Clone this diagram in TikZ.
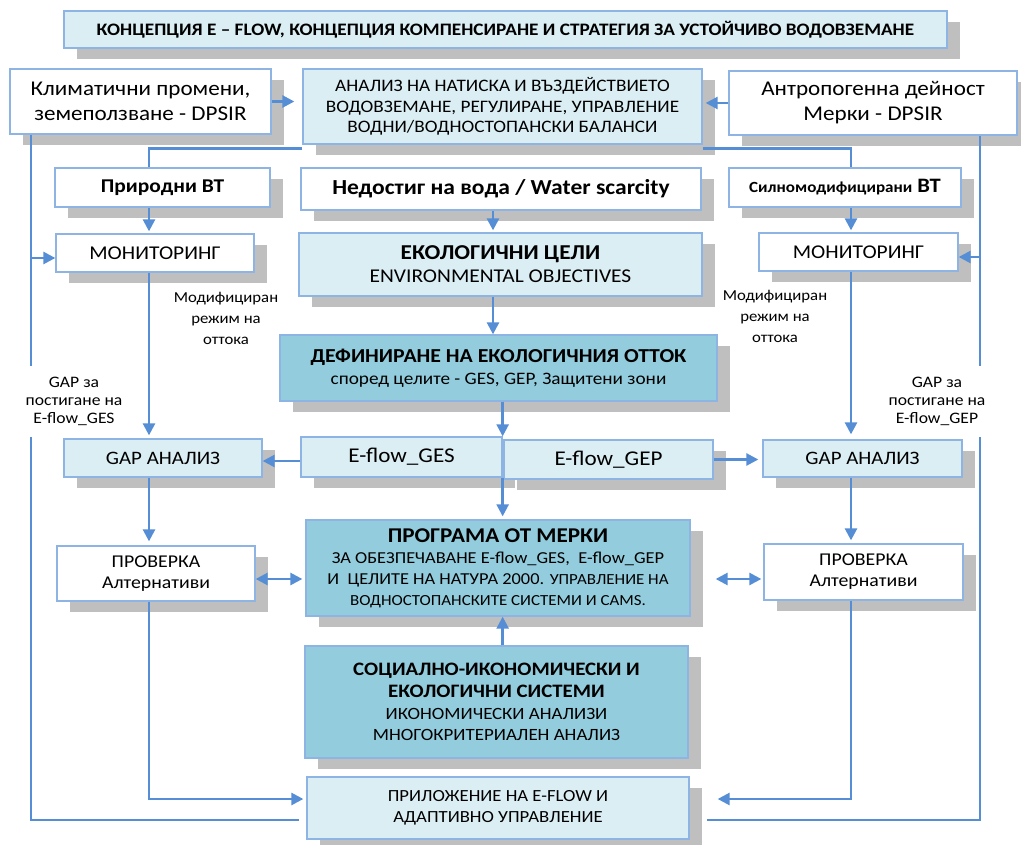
\documentclass[tikz,border=0pt]{standalone}
\usepackage{fontspec}
\setmainfont{Carlito}[FakeStretch=1.1]
\usepackage{tikz}
\usetikzlibrary{calc,positioning,arrows.meta,shadows}

\definecolor{boxline}{HTML}{8DB4E2}
\definecolor{flowline}{HTML}{558ED5}
\definecolor{paleblue}{HTML}{DBEEF4}
\definecolor{tealblue}{HTML}{93CDDD}
\definecolor{shadowgray}{HTML}{BFBFBF}

\newcommand{\fsz}[2]{\fontsize{#1}{#2}\selectfont}

\begin{document}
\begin{tikzpicture}[x=1pt, y=-1pt, align=center,
        >={Triangle[length=12pt,width=12pt]},
        plainbox/.style={draw=boxline, line width=1.3pt, fill=white, inner sep=2pt,
            drop shadow={shadow xshift=13pt, shadow yshift=-11pt, fill=shadowgray, opacity=1}},
        palebox/.style={plainbox, fill=paleblue},
        tealbox/.style={plainbox, fill=tealblue},
        flow/.style={draw=flowline, line width=2.6pt},
        note/.style={inner sep=0pt, font=\fsz{16}{18}}]
        \useasboundingbox (0,0) rectangle (1021,845);

        \node [palebox, minimum width=883, minimum height=37, font=\bfseries\fsz{17.5}{20}] (title) at (505.5,29.5) {КОНЦЕПЦИЯ Е – FLOW, КОНЦЕПЦИЯ КОМПЕНСИРАНЕ И СТРАТЕГИЯ ЗА УСТОЙЧИВО ВОДОВЗЕМАНЕ};

        \node [plainbox, minimum width=261, minimum height=65, font=\fsz{21}{25}] (klima) at (140.5,101.5) {Климатични промени,\\земеползване - DPSIR};
        \node [palebox, minimum width=399, minimum height=75, font=\fsz{17.5}{20.5}] (analiz) at (502.5,106.5) {АНАЛИЗ НА НАТИСКА И ВЪЗДЕЙСТВИЕТО\\ВОДОВЗЕМАНЕ, РЕГУЛИРАНЕ, УПРАВЛЕНИЕ\\ВОДНИ/ВОДНОСТОПАНСКИ БАЛАНСИ};
        \node [plainbox, minimum width=288, minimum height=64, font=\fsz{21}{25}] (antropo) at (873,103) {Антропогенна дейност\\Мерки - DPSIR};

        \node [plainbox, minimum width=215, minimum height=39, font=\bfseries\fsz{19.5}{24}] (prirodni) at (162.5,187.5) {Природни ВТ};
        \node [plainbox, minimum width=400, minimum height=42, font=\bfseries\fsz{21.4}{24}] (nedostig) at (501,189) {Недостиг на вода / Water scarcity};
        \node [plainbox, minimum width=232, minimum height=39, font=\bfseries\fsz{20.5}{24}] (silno) at (845,187.5) {{\fsz{15.5}{18}Силномодифицирани} ВТ};

        \node [plainbox, minimum width=198, minimum height=38, font=\fsz{19.5}{24}] (monleft) at (155,253) {МОНИТОРИНГ};
        \node [palebox, minimum width=403, minimum height=63, font=\fsz{19.5}{23}] (ekocel) at (500.5,264.5) {{\bfseries\fsz{21.2}{23}ЕКОЛОГИЧНИ ЦЕЛИ}\\ENVIRONMENTAL OBJECTIVES};
        \node [plainbox, minimum width=199, minimum height=38, font=\fsz{19.5}{24}] (monright) at (858.5,252) {МОНИТОРИНГ};

        \node [note, font=\fsz{15.2}{21}] (modleft) at (226,318) {Модифициран\\режим на\\оттока};
        \node [note, font=\fsz{15.2}{21}] (modright) at (775,316) {Модифициран\\режим на\\оттока};

        \node [tealbox, minimum width=437, minimum height=66, font=\fsz{17.5}{22}] (defin) at (498.5,368) {{\bfseries\fsz{19.8}{22}ДЕФИНИРАНЕ НА ЕКОЛОГИЧНИЯ ОТТОК}\\според целите - GES, GEP, Защитени зони};

        \node [note, minimum height=71] (gapl) at (74,401.5) {GAP за\\постигане на\\E-flow\_GES};
        \node [note, minimum height=71] (gapr) at (937,401.5) {GAP за\\постигане на\\E-flow\_GEP};

        \node [palebox, minimum width=198, minimum height=38, font=\fsz{19}{22}] (gapleft) at (163,458) {GAP АНАЛИЗ};
        \node [palebox, minimum width=201, minimum height=40, font=\fsz{21}{24}] (eges) at (401.5,457) {E-flow\_GES};
        \node [palebox, minimum width=209, minimum height=39, font=\fsz{21}{24}] (egep) at (608.5,459.5) {E-flow\_GEP};
        \node [palebox, minimum width=199, minimum height=37, font=\fsz{19}{22}] (gapright) at (862.5,458.5) {GAP АНАЛИЗ};

        \node [tealbox, minimum width=384, minimum height=96, font=\fsz{16.7}{21}] (programa) at (498,568) {{\bfseries\fsz{21}{21}ПРОГРАМА ОТ МЕРКИ}\\ЗА ОБЕЗПЕЧАВАНЕ E-flow\_GES,\ \ E-flow\_GEP\\И\ \ ЦЕЛИТЕ НА НАТУРА 2000. {\fsz{15.4}{21}УПРАВЛЕНИЕ НА}\\{\fsz{15.4}{19}ВОДНОСТОПАНСКИТЕ СИСТЕМИ И CAMS.}};
        \node [plainbox, minimum width=198, minimum height=55, font=\fsz{18}{21}] (provleft) at (156,573.5) {ПРОВЕРКА\\Алтернативи};
        \node [plainbox, minimum width=199, minimum height=56, font=\fsz{18}{21}] (provright) at (863.5,572) {ПРОВЕРКА\\Алтернативи};

        \node [tealbox, minimum width=383, minimum height=112, font=\fsz{17.2}{21.7}] (social) at (496.5,702) {{\bfseries\fsz{19}{21.7}СОЦИАЛНО-ИКОНОМИЧЕСКИ И}\\{\bfseries\fsz{19}{21.7}ЕКОЛОГИЧНИ СИСТЕМИ}\\ИКОНОМИЧЕСКИ АНАЛИЗИ\\МНОГОКРИТЕРИАЛЕН АНАЛИЗ};
        \node [palebox, minimum width=382, minimum height=62, font=\fsz{17}{21}] (prilog) at (498,808) {ПРИЛОЖЕНИЕ НА E-FLOW И\\АДАПТИВНО УПРАВЛЕНИЕ};

        \coordinate (lcol) at (149,0);
        \coordinate (rcol) at (851,0);
        \coordinate (ccol) at (493,0);
        \coordinate (louter) at (31,0);
        \coordinate (router) at (980,0);

        \draw[flow, ->, shorten >=8pt] (klima.east) -- (klima.east -| analiz.west);
        \draw[flow, ->, shorten >=3pt] (antropo.west) -- (antropo.west -| analiz.east);
        \draw[flow] ([yshift=-4pt]analiz.south west) -| (prirodni.north -| lcol);
        \draw[flow] ([yshift=-4pt]analiz.south east) -| (silno.north -| rcol);

        \draw[flow, ->, shorten >=2pt] (prirodni.south -| lcol) -- (monleft.north -| lcol);
        \draw[flow, ->, shorten >=3pt] (monleft.south -| lcol) -- (gapleft.north -| lcol);
        \draw[flow, ->, shorten >=4pt] (gapleft.south -| lcol) -- (provleft.north -| lcol);
        \draw[flow, ->, shorten >=3pt] (provleft.south -| lcol) |- ([yshift=9pt]prilog.west);

        \draw[flow, ->, shorten >=2pt] (silno.south -| rcol) -- (monright.north -| rcol);
        \draw[flow, ->, shorten >=5pt] (monright.south -| rcol) -- (gapright.north -| rcol);
        \draw[flow, ->, shorten >=3pt] (gapright.south -| rcol) -- (provright.north -| rcol);
        \draw[flow, ->, shorten >=28pt] (provright.south -| rcol) |- ([yshift=9pt]prilog.east);

        \draw[flow, ->, shorten >=2pt] (nedostig.south -| ccol) -- (ekocel.north -| ccol);
        \draw[flow, ->] (ekocel.south -| ccol) -- (defin.north -| ccol);
        \draw[flow, ->] (defin.south -| eges.east) -- (eges.north east);
        \draw[flow, ->, shorten >=3pt] (eges.south east) -- (programa.north -| eges.east);
        \draw[flow, ->] (social.north -| eges.east) -- (programa.south -| eges.east);

        \draw[flow, ->] ([yshift=-4pt]eges.west) -- ([yshift=-4pt]eges.west -| gapleft.east);
        \draw[flow, ->, shorten >=4pt] (egep.east) -- (egep.east -| gapright.west);
        \draw[flow, <->, shorten >=3pt] ([yshift=-5.5pt]provleft.east) -- ([yshift=-5.5pt]provleft.east -| programa.west);
        \draw[flow, <->, shorten <=25pt, shorten >=2pt] ([yshift=-7pt]provright.west -| programa.east) -- ([yshift=-7pt]provright.west);

        % outer feedback lines
        \draw[flow] (klima.south -| louter) -- (gapl.north -| louter);
        \draw[flow, shorten >=7pt] (gapl.south -| louter) |- ([yshift=-12pt]prilog.west);
        \draw[flow, ->] ([yshift=-5pt]monleft.west -| louter) -- ([yshift=-5pt]monleft.west);
        \draw[flow] (antropo.south -| router) -- (gapr.north -| router);
        \draw[flow, shorten >=17pt] (gapr.south -| router) |- ([yshift=-12pt]prilog.east);
        \draw[flow, ->] ([yshift=-5pt]monright.east -| router) -- ([yshift=-5pt]monright.east);
\end{tikzpicture}
\end{document}
